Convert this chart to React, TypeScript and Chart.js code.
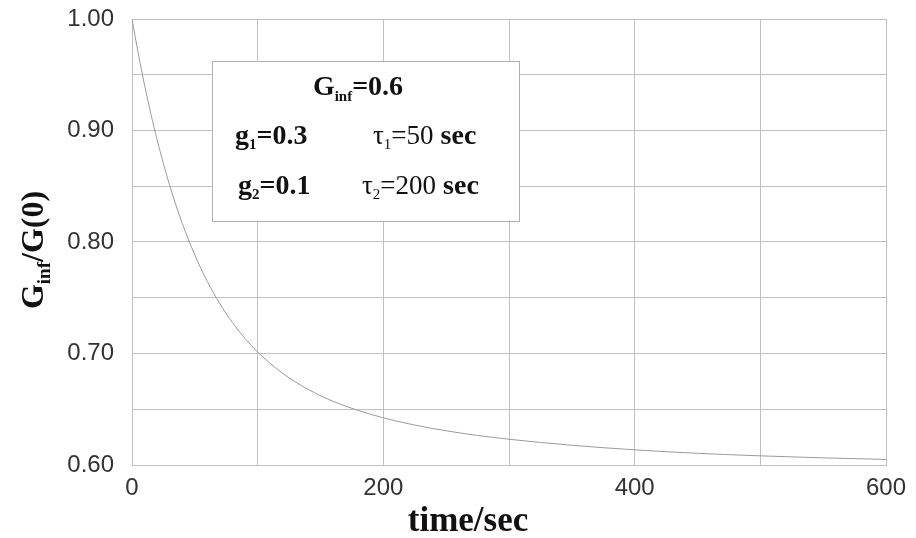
import React, { useEffect, useRef } from "react";
import { Chart, registerables } from "chart.js";

Chart.register(...registerables);

// time (sec) and relaxation modulus ratio
const timeSec = [0, 5, 10, 15, 20, 30, 40, 50, 60, 70, 80, 90, 100, 120, 140, 160, 180, 200, 225, 250, 275, 300, 350, 400, 450, 500, 550, 600];
const gRatio = [1.0, 0.969, 0.9407, 0.915, 0.8916, 0.8507, 0.8167, 0.7883, 0.7645, 0.7445, 0.7276, 0.7134, 0.7013, 0.6821, 0.6679, 0.6571, 0.6489, 0.6423, 0.6358, 0.6307, 0.6265, 0.6231, 0.6177, 0.6136, 0.6105, 0.6082, 0.6064, 0.605];

const xTickLabels = [0, 200, 400, 600];
const yTickLabels = [0.6, 0.7, 0.8, 0.9, 1.0];

const legendTitle = ["G", "inf", "=0.6"];
const legendRows = [
  { g: ["g", "1", "=0.3"], tau: ["τ", "1", "=50", " sec"] },
  { g: ["g", "2", "=0.1"], tau: ["τ", "2", "=200", " sec"] },
];

const SERIF = '"Liberation Serif", "DejaVu Serif", serif';
const SANS = '"Liberation Sans", Arial, sans-serif';

type Run = { t: string; font: string; dy: number };

function drawRuns(ctx: CanvasRenderingContext2D, runs: Run[], x: number, y: number, align: "left" | "center") {
  let total = 0;
  for (const r of runs) {
    ctx.font = r.font;
    total += ctx.measureText(r.t).width;
  }
  let cx = align === "center" ? x - total / 2 : x;
  ctx.textAlign = "left";
  ctx.textBaseline = "alphabetic";
  for (const r of runs) {
    ctx.font = r.font;
    ctx.fillText(r.t, cx, y + r.dy);
    cx += ctx.measureText(r.t).width;
  }
}

const overlayPlugin = {
  id: "overlay",
  afterDraw(chart: any) {
    const ctx: CanvasRenderingContext2D = chart.ctx;
    ctx.save();
    // parameter box
    ctx.fillStyle = "#ffffff";
    ctx.fillRect(212, 61, 308, 161);
    ctx.strokeStyle = "#b0b0b0";
    ctx.lineWidth = 1;
    ctx.strokeRect(212.5, 61.5, 307, 160);

    ctx.fillStyle = "#111111";
    const big = `bold 28px ${SERIF}`;
    const sub = `bold 15px ${SERIF}`;
    const reg = `27px ${SERIF}`;
    const regSub = `15px ${SERIF}`;
    drawRuns(ctx, [
      { t: legendTitle[0], font: big, dy: 0 },
      { t: legendTitle[1], font: sub, dy: 6 },
      { t: legendTitle[2], font: big, dy: 0 },
    ], 358, 95, "center");

    const rowY = [144, 194];
    const gX = [235, 238];
    const tX = [373, 362];
    legendRows.forEach((row, i) => {
      drawRuns(ctx, [
        { t: row.g[0], font: big, dy: 0 },
        { t: row.g[1], font: sub, dy: 5 },
        { t: row.g[2], font: big, dy: 0 },
      ], gX[i], rowY[i], "left");
      drawRuns(ctx, [
        { t: row.tau[0], font: reg, dy: 0 },
        { t: row.tau[1], font: regSub, dy: 5 },
        { t: row.tau[2], font: reg, dy: 0 },
        { t: row.tau[3], font: big, dy: 0 },
      ], tX[i], rowY[i], "left");
    });

    // axis titles
    ctx.fillStyle = "#111111";
    ctx.font = `bold 35px ${SERIF}`;
    ctx.textAlign = "center";
    ctx.textBaseline = "alphabetic";
    ctx.fillText("time/sec", 468, 531);

    ctx.save();
    ctx.translate(43, 250);
    ctx.rotate(-Math.PI / 2);
    drawRuns(ctx, [
      { t: "G", font: `bold 32px ${SERIF}`, dy: 0 },
      { t: "inf", font: `bold 19px ${SERIF}`, dy: 7 },
      { t: "/G(0)", font: `bold 32px ${SERIF}`, dy: 0 },
    ], 0, 0, "center");
    ctx.restore();
    ctx.restore();
  },
};

export default function App() {
  const canvasRef = useRef<HTMLCanvasElement | null>(null);

  useEffect(() => {
    document.body.style.margin = "0";
    const canvas = canvasRef.current;
    if (!canvas) return;
    const gridColor = "#c0c0c0";
    const chart = new Chart(canvas, {
      type: "line",
      data: {
        datasets: [
          {
            data: timeSec.map((t, i) => ({ x: t, y: gRatio[i] })),
            borderColor: "#9a9a9a",
            borderWidth: 1,
            pointRadius: 0,
            cubicInterpolationMode: "monotone",
            fill: false,
          },
        ],
      },
      options: {
        animation: false,
        responsive: false,
        events: [],
        layout: { padding: { top: 19, right: 30, left: 0, bottom: 0 } },
        plugins: { legend: { display: false }, tooltip: { enabled: false }, title: { display: false } },
        scales: {
          x: {
            type: "linear",
            min: 0,
            max: 600,
            afterFit: (s: any) => {
              s.height = 73;
              s.paddingLeft = 0;
              s.paddingRight = 0;
            },
            ticks: {
              stepSize: 100,
              color: "#333333",
              padding: 9,
              maxRotation: 0,
              font: { family: SANS, size: 24 },
              callback: (v: any) => (xTickLabels.includes(Number(v)) ? String(v) : ""),
            },
            grid: { color: gridColor, lineWidth: 1, drawTicks: false },
            border: { display: true, color: gridColor },
          },
          y: {
            type: "linear",
            min: 0.6,
            max: 1.0,
            afterFit: (s: any) => {
              s.width = 132;
              s.paddingTop = 0;
              s.paddingBottom = 0;
            },
            ticks: {
              stepSize: 0.05,
              color: "#333333",
              padding: 18,
              font: { family: SANS, size: 24 },
              callback: (v: any) =>
                yTickLabels.some((t) => Math.abs(t - Number(v)) < 1e-6) ? Number(v).toFixed(2) : "",
            },
            grid: { color: gridColor, lineWidth: 1, drawTicks: false },
            border: { display: true, color: gridColor },
          },
        },
      },
      plugins: [overlayPlugin],
    } as any);
    return () => chart.destroy();
  }, []);

  return (
    <div style={{ width: 916, height: 538, background: "#ffffff" }}>
      <canvas ref={canvasRef} width={916} height={538} />
    </div>
  );
}
